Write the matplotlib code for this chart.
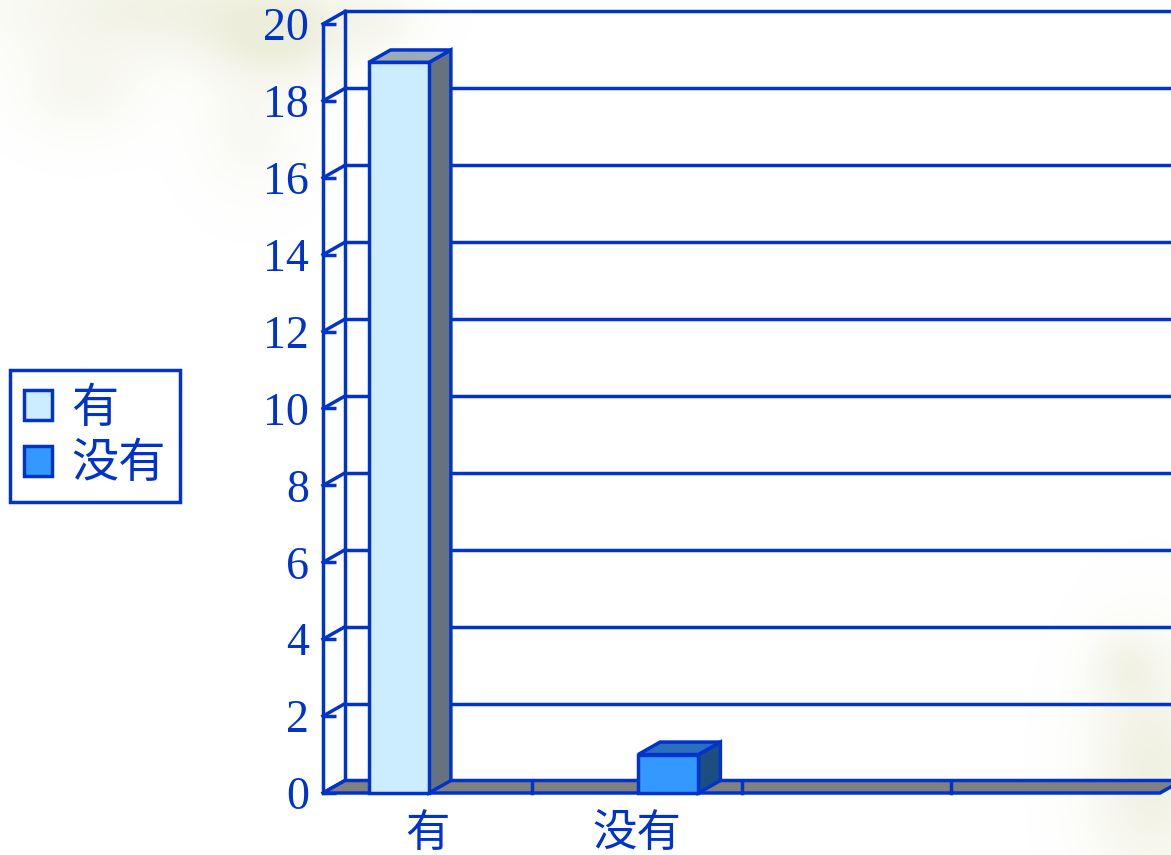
import numpy as np
import matplotlib.pyplot as plt
import matplotlib as mpl
from matplotlib.patches import Polygon, Patch

# chart data
categories = ["有", "没有", "", ""]
series_names = ["有", "没有"]
series_values = [
    [19, 0, 0, 0],   # 有
    [0, 1, 0, 0],    # 没有
]
yticks = [0, 2, 4, 6, 8, 10, 12, 14, 16, 18, 20]

# style
BLUE = "#0033CC"
front_cols = ["#CCECFF", "#3399FF"]
side_cols = ["#66737F", "#1D4E80"]
top_cols = ["#9AABB8", "#2B6FBF"]
FLOOR = "#808080"
LW = 2.5
CJK = ["Noto Sans CJK SC", "DejaVu Sans"]

W, H = 1171, 855
fig = plt.figure(figsize=(W / 100, H / 100), dpi=100)
fig.patch.set_facecolor("white")

# faint textured background (decoration only)
bg = fig.add_axes([0, 0, 1, 1], zorder=-5)
yy, xx = np.mgrid[0:H, 0:W]
alpha = np.zeros((H, W))
for cx, cy, sx, sy, a in [(150, 10, 150, 50, 0.30), (280, 35, 70, 45, 0.40),
                          (80, 90, 60, 45, 0.18), (250, 130, 50, 60, 0.15),
                          (380, 20, 40, 30, 0.15),
                          (1150, 770, 60, 110, 0.35), (1125, 665, 35, 35, 0.2)]:
    alpha += a * np.exp(-(((xx - cx) / sx) ** 2 + ((yy - cy) / sy) ** 2))
alpha = np.clip(alpha, 0, 0.45)
img = np.zeros((H, W, 4))
img[..., 0] = 0.84
img[..., 1] = 0.85
img[..., 2] = 0.68
img[..., 3] = alpha
bg.imshow(img, aspect="auto", interpolation="bilinear")
bg.axis("off")

# main axes = front plane of the 3D box
ax = fig.add_axes([323 / W, 62 / H, 837 / W, 769 / H])
ax.set_xlim(0, len(categories))
ax.set_ylim(0, 20)
ax.patch.set_alpha(0)
for s in ["top", "right", "bottom"]:
    ax.spines[s].set_visible(False)
ax.spines["left"].set_color(BLUE)
ax.spines["left"].set_linewidth(LW)
ax.spines["left"].set_zorder(6)

DX = 22 / 209.25   # depth offset in category units
DY = 12.5 / 38.45  # depth offset in value units
ncat = len(categories)

# back wall and side wall
ax.plot([DX, DX], [DY, 20 + DY], color=BLUE, lw=LW, clip_on=False, zorder=1)
for v in yticks:
    ax.plot([DX, ncat + DX], [v + DY, v + DY], color=BLUE, lw=LW, clip_on=False, zorder=1)
    ax.plot([0, DX], [v, v + DY], color=BLUE, lw=LW, clip_on=False, zorder=1)

# floor
ax.add_patch(Polygon([(0, 0), (ncat, 0), (ncat + DX, DY), (DX, DY)], closed=True,
                     facecolor=FLOOR, edgecolor=BLUE, lw=LW, clip_on=False, zorder=2))
for i in range(1, ncat):
    ax.plot([i, i], [0, DY], color=BLUE, lw=LW, clip_on=False, zorder=2)

# 3D columns
bw = 0.288
off = 0.218
for j, vals in enumerate(series_values):
    for i, v in enumerate(vals):
        if v <= 0:
            continue
        x0 = i + off + j * bw
        x1 = x0 + bw
        kw = dict(closed=True, edgecolor=BLUE, lw=LW, clip_on=False, zorder=4,
                  joinstyle="miter")
        ax.add_patch(Polygon([(x1, 0), (x1 + DX, DY), (x1 + DX, v + DY), (x1, v)],
                             facecolor=side_cols[j], **kw))
        ax.add_patch(Polygon([(x0, v), (x0 + DX, v + DY), (x1 + DX, v + DY), (x1, v)],
                             facecolor=top_cols[j], **kw))
        ax.add_patch(Polygon([(x0, 0), (x1, 0), (x1, v), (x0, v)],
                             facecolor=front_cols[j], **kw))

# ticks and labels
ax.set_yticks(yticks)
ax.set_yticklabels([str(v) for v in yticks], family="Liberation Serif")
ax.tick_params(axis="y", direction="in", length=9, width=LW, color=BLUE,
               labelcolor=BLUE, labelsize=33, pad=10)
ax.set_xticks([i + 0.5 for i in range(ncat)])
ax.set_xticklabels(categories, family=CJK)
ax.tick_params(axis="x", length=0, labelcolor=BLUE, labelsize=32, pad=12)

# legend
handles = [Patch(facecolor=front_cols[j], edgecolor=BLUE, lw=LW) for j in range(2)]
leg = fig.legend(handles, series_names, loc="upper left",
                 bbox_to_anchor=(10 / W, 1 - 370 / H), frameon=True, fancybox=False,
                 framealpha=1, prop={"family": CJK, "size": 34},
                 handlelength=0.6, handleheight=0.6, handletextpad=0.4,
                 borderpad=0.3, labelspacing=0.15, borderaxespad=0)
leg.get_frame().set_edgecolor(BLUE)
leg.get_frame().set_linewidth(LW)
for t in leg.get_texts():
    t.set_color(BLUE)

fig.savefig("out.png", dpi=100)
